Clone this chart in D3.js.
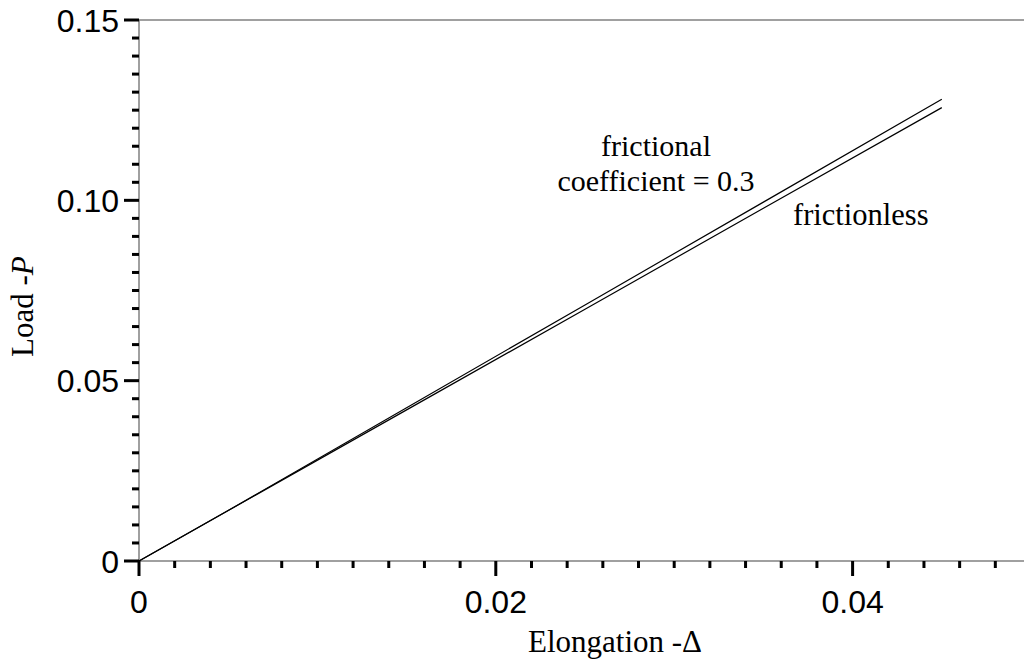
<!DOCTYPE html>
<html>
<head>
<meta charset="utf-8">
<script src="https://cdn.jsdelivr.net/npm/d3@7"></script>
<style>
  html, body { margin: 0; padding: 0; background: #fff; }
  svg { display: block; }
</style>
</head>
<body>
<svg id="chart" width="1024" height="662"></svg>
<script>
// Load–elongation response of the joint, with and without friction
const elongation   = [0, 0.005, 0.015, 0.025, 0.035, 0.045];
const frictionless = [0, 0.0140, 0.0419, 0.0698, 0.0978, 0.1257];
const frictional   = [0, 0.0140, 0.0425, 0.0710, 0.0995, 0.1280];

const xMajorTicks = [0, 0.02, 0.04];
const xTickLabels = ["0", "0.02", "0.04"];
const yMajorTicks = [0, 0.05, 0.10, 0.15];
const yTickLabels = ["0", "0.05", "0.10", "0.15"];

const svg = d3.select("#chart");
const x = d3.scaleLinear().domain([0, 0.05]).range([139, 1031]);
const y = d3.scaleLinear().domain([0, 0.15]).range([561, 20]);

const sans = "'Liberation Sans', Arial, sans-serif";
const serif = "'Liberation Serif', 'Times New Roman', serif";

// frame lines (grey)
svg.append("line").attr("x1", x(0)).attr("x2", 1024).attr("y1", y(0.15)).attr("y2", y(0.15))
  .attr("stroke", "#808080").attr("stroke-width", 1.5);
svg.append("line").attr("x1", x(0)).attr("x2", 1024).attr("y1", y(0)).attr("y2", y(0))
  .attr("stroke", "#808080").attr("stroke-width", 1.5);
svg.append("line").attr("x1", x(0)).attr("x2", x(0)).attr("y1", y(0.15)).attr("y2", y(0))
  .attr("stroke", "#808080").attr("stroke-width", 1.5);

// x ticks: minor every 0.002, major every 0.02
const xMinor = d3.range(0, 51).map(i => i * 0.002).filter(v => x(v) <= 1024);
svg.append("g").selectAll("line").data(xMinor).join("line")
  .attr("x1", d => x(d)).attr("x2", d => x(d))
  .attr("y1", y(0)).attr("y2", d => xMajorTicks.some(m => Math.abs(m - d) < 1e-9) ? y(0) + 15 : y(0) + 7)
  .attr("stroke", "#000").attr("stroke-width", 3);

// y ticks: minor every 0.005, major every 0.05
const yMinor = d3.range(0, 31).map(i => i * 0.005);
svg.append("g").selectAll("line").data(yMinor).join("line")
  .attr("y1", d => y(d)).attr("y2", d => y(d))
  .attr("x1", x(0)).attr("x2", d => yMajorTicks.some(m => Math.abs(m - d) < 1e-9) ? x(0) - 15 : x(0) - 7)
  .attr("stroke", "#000").attr("stroke-width", 3);

// tick labels
svg.append("g").selectAll("text").data(xMajorTicks).join("text")
  .attr("x", d => x(d)).attr("y", y(0) + 52)
  .attr("text-anchor", "middle")
  .attr("font-family", sans).attr("font-size", 32).attr("fill", "#000")
  .text((d, i) => xTickLabels[i]);

svg.append("g").selectAll("text").data(yMajorTicks).join("text")
  .attr("x", x(0) - 20).attr("y", d => y(d) + 11.5)
  .attr("text-anchor", "end")
  .attr("font-family", sans).attr("font-size", 32).attr("fill", "#000")
  .text((d, i) => yTickLabels[i]);

// curves
const line = d3.line().x(d => x(d[0])).y(d => y(d[1]));
[frictionless, frictional].forEach(series => {
  svg.append("path")
    .datum(elongation.map((e, i) => [e, series[i]]))
    .attr("d", line)
    .attr("fill", "none").attr("stroke", "#000").attr("stroke-width", 1.2);
});

// curve labels
svg.append("text").attr("x", 656).attr("y", 156).attr("text-anchor", "middle")
  .attr("font-family", serif).attr("font-size", 30).text("frictional");
svg.append("text").attr("x", 656).attr("y", 191).attr("text-anchor", "middle")
  .attr("font-family", serif).attr("font-size", 30).text("coefficient = 0.3");
svg.append("text").attr("x", 793).attr("y", 225).attr("text-anchor", "start")
  .attr("font-family", serif).attr("font-size", 30.5).text("frictionless");

// axis titles
const xt = svg.append("text").attr("x", 528).attr("y", 652).attr("text-anchor", "start")
  .attr("font-family", serif).attr("font-size", 31);
xt.append("tspan").text("Elongation -\u0394");

const yt = svg.append("text")
  .attr("transform", "translate(33,357) rotate(-90)")
  .attr("text-anchor", "start")
  .attr("font-family", serif).attr("font-size", 31);
yt.append("tspan").text("Load -");
yt.append("tspan").attr("font-style", "italic").text("P");
</script>
</body>
</html>
